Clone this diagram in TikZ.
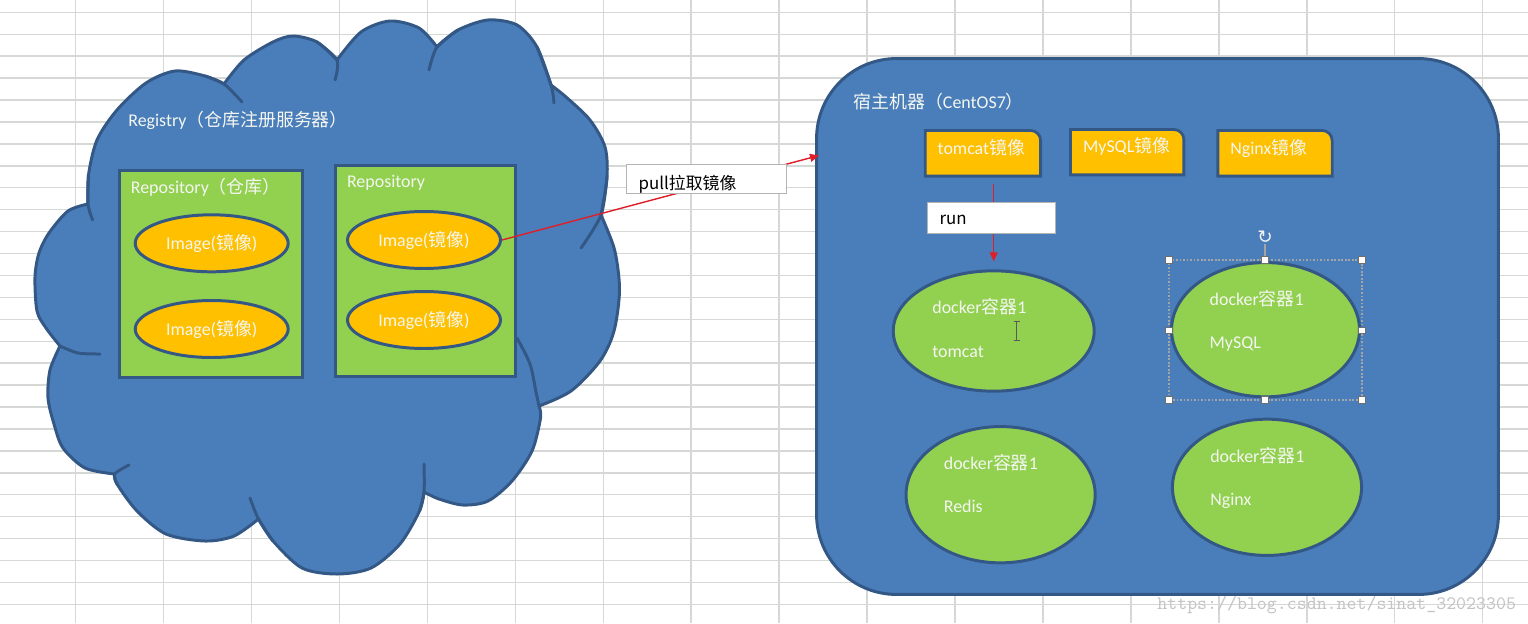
\documentclass[tikz,border=0pt]{standalone}
\usepackage{fontspec}
\setmainfont{Carlito}
\newfontfamily\cjk{Noto Sans CJK SC}
\newfontfamily\djv{DejaVu Sans}
\usetikzlibrary{shapes.geometric,arrows.meta}
\definecolor{gridc}{RGB}{214,216,214}
\definecolor{bluef}{RGB}{74,126,187}
\definecolor{outl}{RGB}{52,88,134}
\definecolor{greenf}{RGB}{146,208,80}
\definecolor{orangef}{RGB}{255,192,0}
\definecolor{wtext}{RGB}{244,246,240}
\definecolor{redc}{RGB}{222,30,40}
\definecolor{lblborder}{RGB}{180,180,180}
\definecolor{selc}{RGB}{165,165,165}
\definecolor{handlec}{RGB}{110,110,110}
\definecolor{wmc}{RGB}{196,196,196}
\definecolor{cursc}{RGB}{90,90,90}
\newcommand\zh[1]{{\cjk #1}}
\newcommand\cornerbox[1]{\path[imgbox] (#1.south west) -- (#1.north west) -- ([xshift=-0.2cm]#1.north east) arc[start angle=90, end angle=0, radius=0.2cm] -- (#1.south east) -- cycle;}
\tikzset{
 gridline/.style={draw=gridc, line width=0.8pt},
 cloudsty/.style={fill=bluef, draw=outl, line width=1.7pt, line join=round, line cap=round},
 cloudtail/.style={draw=outl, line width=1.7pt, line cap=round},
 repo/.style={rectangle, draw=outl, fill=greenf, line width=1.7pt, inner sep=0},
 wt/.style={text=wtext, font=\fontsize{10.2}{12}\selectfont, inner sep=0},
 imgell/.style={ellipse, draw=outl, fill=orangef, line width=1.7pt, inner sep=0, minimum width=3.06cm, minimum height=1.14cm, wt},
 hostbox/.style={rectangle, rounded corners=1.6cm, draw=outl, fill=bluef, line width=1.7pt, inner sep=0, minimum width=13.64cm, minimum height=10.72cm},
 imgbox/.style={draw=outl, fill=orangef, line width=1.6pt, line join=miter},
 boxanchor/.style={rectangle, inner sep=0, draw=none},
 contell/.style={ellipse, draw=outl, fill=greenf, line width=1.7pt, inner sep=0},
 lbl/.style={rectangle, draw=lblborder, fill=white, line width=0.5pt, inner sep=0},
 bt/.style={text=black, font=\cjk\fontsize{9.6}{12}\selectfont, inner sep=0},
 redarr/.style={draw=redc, line width=0.8pt, -{Triangle[length=0.18cm,width=0.16cm]}},
 selhandle/.style={rectangle, draw=handlec, fill=white, line width=0.4pt, minimum size=0.13cm, inner sep=0},
 selbox/.style={draw=selc, line width=0.6pt, dash pattern=on 1pt off 1pt},
}
\begin{document}
\begin{tikzpicture}[x=0.02cm,y=-0.02cm]
\useasboundingbox (0,0) rectangle (1528,623);
\fill[white] (0,0) rectangle (1528,623);
% spreadsheet grid
\foreach \k in {0,...,16} \draw[gridline] ({75.5+87.95*\k},0) -- ({75.5+87.95*\k},623);
\foreach \k in {0,...,27} \draw[gridline] (0,{12.3+21.93*\k}) -- (1528,{12.3+21.93*\k});
% cloud
\path[cloudsty]
 plot[smooth] coordinates {(60,346) (46,328) (37,311) (35,277) (39,253) (49,233) (68,211) (88,204)}
 -- plot[smooth] coordinates {(88,204) (88.5,175) (97,140) (117,110) (146,83) (175,71) (205,76) (224,84)}
 -- plot[smooth] coordinates {(224,84) (244,60) (273,42) (293,36) (317,42) (337,60)}
 -- plot[smooth] coordinates {(337,60) (361,32) (390,21) (419,28) (437,47)}
 -- plot[smooth] coordinates {(437,47) (458,30) (488,20) (517,25) (537,47) (551,85)}
 -- plot[smooth] coordinates {(551,85) (566,97) (590,120) (605,147) (607,177) (601,215)}
 -- plot[smooth] coordinates {(601,215) (614.6,250) (619.5,290) (614,331) (600,361) (571,391) (539,406)}
 -- plot[smooth] coordinates {(539,406) (540.5,418) (532,451) (512,481) (488,501) (463,505) (439,499) (424,492)}
 -- plot[smooth] coordinates {(424,492) (419.5,511) (400,544) (371,568) (337,574) (302,568) (273,541) (258.5,519)}
 -- plot[smooth] coordinates {(258.5,519) (234,536) (205,541) (166,534) (137,511) (117,484) (114.6,474)}
 -- plot[smooth] coordinates {(114.6,474) (85,468) (63,448) (54,424) (48,398) (50,370) (60,346)}
 -- cycle;
\draw[cloudtail] plot[smooth] coordinates {(60,346) (78,353) (100,354)};
\draw[cloudtail] plot[smooth] coordinates {(88.5,175) (88,204) (92.7,220)};
\draw[cloudtail] plot[smooth] coordinates {(205,76) (224,84) (242,102)};
\draw[cloudtail] plot[smooth] coordinates {(317,42) (337,60) (335,80)};
\draw[cloudtail] plot[smooth] coordinates {(458,30) (437,47) (429,70)};
\draw[cloudtail] plot[smooth] coordinates {(537,47) (551,85) (554,103)};
\draw[cloudtail] plot[smooth] coordinates {(607,177) (601,215) (581,248)};
\draw[cloudtail] plot[smooth] coordinates {(539,406) (536,392) (530,364) (517,338)};
\draw[cloudtail] plot[smooth] coordinates {(419.5,511) (424,492) (424,464)};
\draw[cloudtail] plot[smooth] coordinates {(273,541) (258.5,519) (250,498)};
\draw[cloudtail] plot[smooth] coordinates {(117,484) (114.6,474) (129,465)};
\node[wt, anchor=base west] (reg) at (128,126.5) {Registry\zh{（仓库注册服务器）}};
% repositories
\node[repo, minimum width=3.654cm, minimum height=4.14cm] (repo1) at (211.2,274.3) {};
\node[repo, minimum width=3.588cm, minimum height=4.208cm] (repo2) at (425.5,271) {};
\node[wt, anchor=base west] (repo1t) at (130.5,193.3) {Repository\zh{（仓库）}};
\node[wt, anchor=base west] (repo2t) at (346.7,187.7) {Repository};
\node[imgell] (i1) at (211.7,243.3) {Image(\zh{镜像})};
\node[imgell] (i2) at (211.7,329) {Image(\zh{镜像})};
\node[imgell] (i3) at (424,240) {Image(\zh{镜像})};
\node[imgell] (i4) at (424,320) {Image(\zh{镜像})};
% host
\node[hostbox] (host) at (1157.5,326.5) {};
\node[wt, anchor=base west] (hostt) at (853,108) {\zh{宿主机器（}CentOS7\zh{）}};
\node[boxanchor, minimum width=2.294cm, minimum height=0.9cm] (timg) at (982.9,153.3) {};
\node[boxanchor, minimum width=2.254cm, minimum height=0.894cm] (mimg) at (1127.2,152.2) {};
\node[boxanchor, minimum width=2.272cm, minimum height=0.9cm] (nimg) at (1275,153.3) {};
\cornerbox{timg}
\cornerbox{mimg}
\cornerbox{nimg}
\node[wt, anchor=base west] (timgt) at (937.3,154) {tomcat\zh{镜像}};
\node[wt, anchor=base west] (mimgt) at (1082.7,152.3) {MySQL\zh{镜像}};
\node[wt, anchor=base west] (nimgt) at (1230,154) {Nginx\zh{镜像}};
% containers
\node[contell, minimum width=4.02cm, minimum height=2.408cm] (c1) at (993.7,331) {};
\node[contell, minimum width=3.76cm, minimum height=2.686cm] (c2) at (1265.5,329.7) {};
\node[contell, minimum width=3.784cm, minimum height=2.726cm] (c3) at (1000.6,494.7) {};
\node[contell, minimum width=3.784cm, minimum height=2.726cm] (c4) at (1267,487.3) {};
\node[wt, anchor=base west] (c1a) at (932,313.6) {docker\zh{容器}1};
\node[wt, anchor=base west] (c1b) at (932,357) {tomcat};
\node[wt, anchor=base west] (c2a) at (1209.3,305) {docker\zh{容器}1};
\node[wt, anchor=base west] (c2b) at (1209.3,348.3) {MySQL};
\node[wt, anchor=base west] (c3a) at (943.5,469.3) {docker\zh{容器}1};
\node[wt, anchor=base west] (c3b) at (943.5,512.7) {Redis};
\node[wt, anchor=base west] (c4a) at (1209.9,462) {docker\zh{容器}1};
\node[wt, anchor=base west] (c4b) at (1209.9,505.3) {Nginx};
% selection frame around MySQL container
\draw[selbox] (1169,260) rectangle (1362,400);
\foreach \x/\y [count=\i] in {1169/260,1265/260,1362/260,1169/330.5,1362/330.5,1169/400,1265/400,1362/400}
  \node[selhandle] (h\i) at (\x,\y) {};
\node[inner sep=0, text=white!90!gray, font=\djv\fontsize{10.5}{10.5}\selectfont] (rot) at (1265,237.5) {↻};
\draw[selc, line width=0.6pt] (h2.north) -- (rot.south);
% run
\draw[redarr, shorten <=0.16cm, shorten >=0.16cm] (timg.south -| c1.north) -- (c1.north);
\node[lbl, minimum width=2.56cm, minimum height=0.62cm] (run) at (991,217.5) {};
\node[bt, anchor=base west] (runt) at (939.3,224.3) {run};
% pull
\coordinate (pullend) at (819,155.5);
\draw[redarr] (i3.east) -- (pullend);
\node[lbl, minimum width=3.186cm, minimum height=0.58cm] (pull) at (706.3,178.8) {};
\node[bt, anchor=base west] (pullt) at (638.3,189) {pull拉取镜像};
% text cursor
\draw[cursc, line width=0.6pt] (1016.5,322) -- (1016.5,340) (1013.5,321.5) -- (1019.5,321.5) (1013.5,340.5) -- (1019.5,340.5);
% watermark
\node[anchor=base west, text=wmc, font=\ttfamily\fontsize{10.8}{12}\selectfont, inner sep=0] (wm) at (1157,609) {https://blog.csdn.net/sinat\_32023305};
\end{tikzpicture}
\end{document}
